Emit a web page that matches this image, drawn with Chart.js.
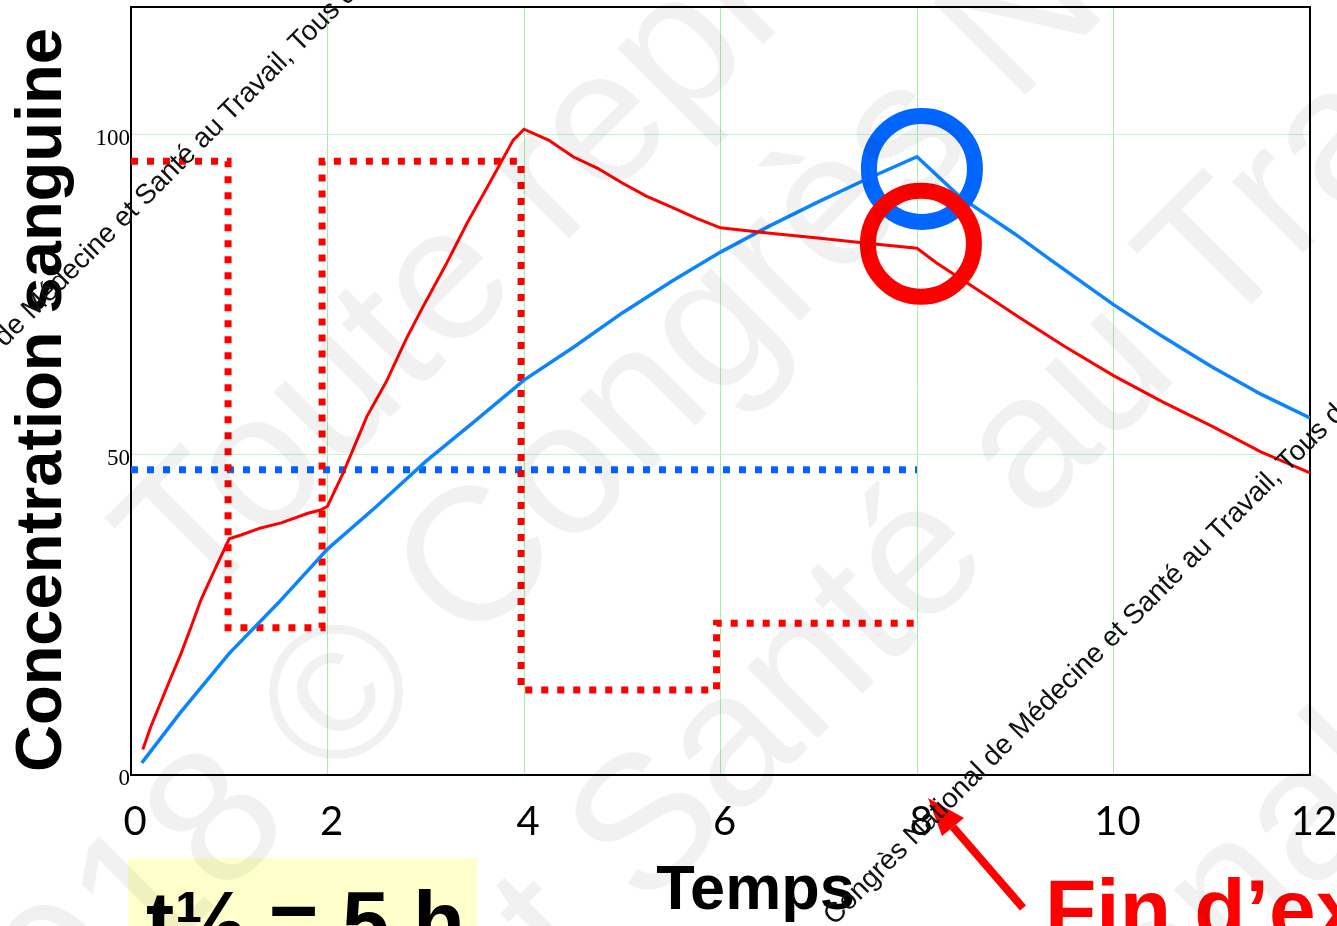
<!DOCTYPE html>
<html>
<head>
<meta charset="utf-8">
<title>Concentration sanguine</title>
<script src="https://cdn.jsdelivr.net/npm/chart.js@4"></script>
<style>
body{margin:0;background:#fff;font-family:"Liberation Sans",Arial,sans-serif;}
.page{position:relative;width:1337px;height:926px;overflow:hidden;background:#fff;}
#chart{position:absolute;left:0;top:0;z-index:2;}
.wm{position:absolute;transform-origin:0 0;transform:rotate(-45deg);white-space:nowrap;line-height:1;pointer-events:none;}
.wm.big{font-size:190px;color:rgba(0,0,0,0.055);z-index:6;}
.wm.small{font-size:28px;color:#111;z-index:7;}
.half{position:absolute;left:128px;top:858px;width:349px;height:80px;background:#ffffcc;z-index:1;}
.halftxt{position:absolute;left:146px;top:879px;font-size:85px;font-weight:bold;line-height:1;color:#000;z-index:3;white-space:nowrap;}
.fin{position:absolute;left:1045px;top:867px;font-size:84px;font-weight:bold;line-height:1;color:#ff0000;z-index:3;white-space:nowrap;}
#arrow{position:absolute;left:0;top:0;z-index:4;}
</style>
</head>
<body>
<div class="page">
<div class="half"></div>
<div class="halftxt">t½ = 5 h</div>
<div class="fin">Fin d’exposition</div>
<canvas id="chart" width="1337" height="926"></canvas>
<svg id="arrow" width="1337" height="926">
<line x1="1023" y1="908" x2="953" y2="827" stroke="#ff0000" stroke-width="8"/>
<polygon points="928,798 964,818 942,836" fill="#ff0000"/>
</svg>
<div class="wm big" style="left:80px;top:500px">Toute reproduction</div>
<div class="wm big" style="left:-117px;top:1010px">2018 © Congrès National de Médecine</div>
<div class="wm big" style="left:-426px;top:1754px">de Médecine et Santé au Travail</div>
<div class="wm big" style="left:808px;top:1170px">National</div>
<div class="wm small" style="left:-170px;top:490px">Congrès National de Médecine et Santé au Travail, Tous droits réservés</div>
<div class="wm small" style="left:818px;top:910px">Congrès National de Médecine et Santé au Travail, Tous droits réservés</div>
</div>

<script>
// temps (h) et concentrations
const timeRed=[0.12,0.2,0.4,0.51,0.61,0.71,0.85,1.0,1.12,1.32,1.53,1.8,1.93,2.0,2.16,2.4,2.6,2.81,2.97,3.2,3.42,3.65,3.89,4.0,4.25,4.5,4.75,5.0,5.25,5.52,5.75,6.0,6.48,6.99,7.49,8.0,8.2,8.57,9.05,9.5,10,10.5,11,11.5,12];
const concRed=[4.0,7.5,15,19,23.1,27.3,32,36.9,37.5,38.6,39.4,40.9,41.4,42.0,47.2,56,61.5,68.4,73.1,79.6,86.2,92.5,99.2,100.9,99.2,96.6,94.8,92.5,90.4,88.6,87.0,85.5,84.7,83.9,83.1,82.3,80,76.3,71.4,67,62.4,58.3,54.5,50.5,47.2];
const timeBlue=[0.11,0.5,1.0,1.5,2.0,2.5,3.0,3.5,4.0,4.5,5.0,5.5,6.0,6.5,7.0,7.5,8.0,8.44,9.0,9.36,10,10.5,11,11.5,12];
const concBlue=[1.9,9.7,19,26.9,35.3,42,49,55.3,61.7,66.8,72.2,77.1,81.7,85.8,89.6,93.2,96.6,90.3,84.5,80.5,73.5,68.5,63.8,59.5,55.8];
// exposition (pointillés rouges) et seuil (pointillés bleus)
const stepT=[0,0.988,0.988,1.945,1.945,3.97,3.97,5.96,5.96,8];
const stepC=[95.9,95.9,23,23,95.9,95.9,13.3,13.3,23.7,23.7];
const seuilT=[0,8];
const seuilC=[47.7,47.7];
// cercles fin d'exposition
const ringBlueT=[8.05], ringBlueC=[94.7];
const ringRedT=[8.04], ringRedC=[83.0];
const xTicks=[0,2,4,6,8,10,12];
const yTicks=[0,50,100];

const pts=(xs,ys)=>xs.map((x,i)=>({x:x,y:ys[i]}));

const frame={
id:'frame',
beforeDatasetsDraw(c){
const a=c.chartArea,ctx=c.ctx;
ctx.save();
ctx.strokeStyle='#000';
ctx.lineWidth=2;
ctx.strokeRect(a.left,a.top,a.right-a.left,a.bottom-a.top);
ctx.restore();
}
};

new Chart(document.getElementById('chart'),{
type:'scatter',
data:{datasets:[
{label:'fin rouge',data:pts(ringRedT,ringRedC),showLine:false,pointStyle:'circle',pointRadius:53,borderWidth:16,borderColor:'#ff0000',backgroundColor:'rgba(0,0,0,0)'},
{label:'fin bleu',data:pts(ringBlueT,ringBlueC),showLine:false,pointStyle:'circle',pointRadius:53,borderWidth:16,borderColor:'#0066ff',backgroundColor:'rgba(0,0,0,0)'},
{label:'rouge',data:pts(timeRed,concRed),showLine:true,borderColor:'#ff0000',borderWidth:3,pointRadius:0},
{label:'bleu',data:pts(timeBlue,concBlue),showLine:true,borderColor:'#0a84ff',borderWidth:3.5,pointRadius:0},
{label:'exposition',data:pts(stepT,stepC),showLine:true,borderColor:'#ff0000',borderWidth:7,borderDash:[7,9],pointRadius:0},
{label:'seuil',data:pts(seuilT,seuilC),showLine:true,borderColor:'#0066ff',borderWidth:7,borderDash:[7,9],pointRadius:0}
]},
options:{
responsive:false,
animation:false,
events:[],
layout:{autoPadding:false,padding:{left:0,top:7,right:27,bottom:0}},
plugins:{legend:{display:false},tooltip:{enabled:false}},
scales:{
x:{
type:'linear',min:0,max:12,
afterBuildTicks:s=>{s.ticks=xTicks.map(v=>({value:v}));},
afterFit:s=>{s.height=151;s.paddingLeft=0;s.paddingRight=0;},
grid:{color:'#a6f0a6',lineWidth:1,drawTicks:false},
border:{color:'#000',width:2},
ticks:{color:'#000',font:{family:'Lato',size:40},padding:23,labelOffset:4,maxRotation:0,autoSkip:false},
title:{display:true,text:'\u00a0\u00a0\u00a0\u00a0Temps',color:'#000',font:{family:'Liberation Sans',size:63,weight:'bold',lineHeight:1},padding:{top:0,bottom:3}}
},
y:{
type:'linear',min:0,max:120,
afterBuildTicks:s=>{s.ticks=yTicks.map(v=>({value:v}));},
afterFit:s=>{s.width=131;s.paddingTop=0;s.paddingBottom=0;},
grid:{color:'#c8f0c8',lineWidth:1,drawTicks:false},
border:{color:'#000',width:2},
ticks:{color:'#000',font:{family:'Liberation Serif',size:23},padding:1,labelOffset:4},
title:{display:true,text:'Concentration sanguine\u00a0',color:'#000',font:{family:'Liberation Sans',size:65,weight:'bold',lineHeight:1},padding:{top:11,bottom:0}}
}
}
},
plugins:[frame]
});
</script>
</body>
</html>
